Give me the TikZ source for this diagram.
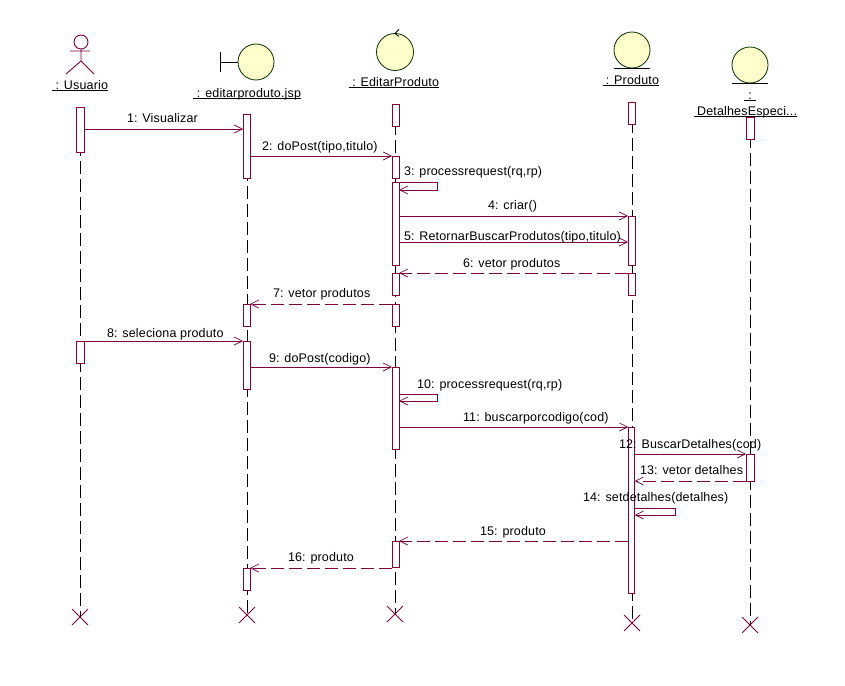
\documentclass[tikz,border=0pt]{standalone}
\usepackage{fontspec}
\setmainfont[LetterSpace=1.3]{Liberation Sans}
\usetikzlibrary{arrows.meta,calc}
\definecolor{rose}{HTML}{800040}
\definecolor{pale}{HTML}{FFFFCC}
\tikzset{
  x=1pt,y=-1pt,
  every node/.style={font=\fontsize{12.5}{14}\selectfont,inner sep=0pt,outer sep=0pt,text=black},
  lifeline/.style={draw=black,line width=0.9pt,dash pattern=on 13pt off 5pt},
  actbox/.style={draw=rose,fill=white,line width=0.9pt,rectangle},
  msg/.style={draw=rose,line width=0.9pt,-{Straight Barb[length=8pt,width=8pt,line width=0.7pt]}},
  ret/.style={msg,dash pattern=on 13pt off 5pt},
  ball/.style={circle,draw=black!80!green,fill=pale,line width=0.8pt},
  mark line/.style={draw=black,line width=0.8pt},
  destroy/.style={draw=rose,line width=0.9pt},
  objlabel/.style={anchor=base east},
  msglabel/.style={anchor=base west},
}
\newcommand{\act}[5]{\node[actbox,minimum width=#3pt,minimum height={(#5-#4)*1pt}] (#1) at (#2,{(#4+#5)/2}) {};}
\newcommand{\xmark}[3]{\coordinate (#1) at (#2,#3); \draw[destroy] ($(#1)+(-8,-8)$) -- ($(#1)+(8,8)$) ($(#1)+(8,-8)$) -- ($(#1)+(-8,8)$);}
\begin{document}
\begin{tikzpicture}
\useasboundingbox (0,0) rectangle (845,685);
\fill[white] (0,0) rectangle (845,685);
% object heads
\node[circle,draw=rose,line width=0.9pt,minimum size=14pt] (uhead) at (81,42) {};
\coordinate (uhip) at (81,61);
\draw[draw=rose,line width=0.9pt] (uhead.south) -- (uhip) (70,51) -- (90,51) (66,74) -- (uhip) -- (94,74);
\node[objlabel] (ulab) at (108,89) {: Usuario};
\draw[mark line] (52,90.5) -- (108,90.5);
\node[ball,minimum size=36pt] (jball) at (256,62) {};
\coordinate (jbar) at (220,62);
\draw[mark line] (jball.west) -- (jbar) (220,52) -- (220,72);
\node[objlabel] (jlab) at (301,97) {: editarproduto.jsp};
\draw[mark line] (193,98.5) -- (301,98.5);
\node[ball,minimum size=37pt] (eball) at (395,52) {};
\draw[mark line] (eball.north) ++(4,-4) -- (eball.north) -- ++(4,3);
\node[objlabel] (elab) at (439,86) {: EditarProduto};
\draw[mark line] (349,87.5) -- (439,87.5);
\node[ball,minimum size=36pt] (pball) at (632,50) {};
\draw[mark line] (614,68) -- (650,68);
\node[objlabel] (plab) at (659,84) {: Produto};
\draw[mark line] (603,85.5) -- (659,85.5);
\node[ball,minimum size=36pt] (dball) at (750,65) {};
\draw[mark line] (732,83) -- (768,83);
\node[anchor=base] (dcolon) at (750,99) {:};
\draw[mark line] (744,100.5) -- (756,100.5);
\node[objlabel] (dlab) at (797,115) {DetalhesEspeci...};
\draw[mark line] (694,116.5) -- (797,116.5);
% lifelines
\xmark{ux}{80}{617}
\xmark{jx}{247}{615}
\xmark{ex}{395}{614}
\xmark{px}{632}{623}
\xmark{dx}{750}{625}
\coordinate (ut) at (80,107);
\coordinate (jt) at (247,114);
\coordinate (et) at (395,104);
\coordinate (pt) at (632,102);
\coordinate (dt) at (750,117);
\draw[lifeline] (ut) -- (ux);
\draw[lifeline] (jt) -- (jx);
\draw[lifeline] (et) -- (ex);
\draw[lifeline] (pt) -- (px);
\draw[lifeline] (dt) -- (dx);
% activations
\act{u1}{80}{8}{107}{152}
\act{u2}{80}{8}{341}{363}
\act{j1}{246.5}{7}{114}{178}
\act{j2}{246.5}{7}{304}{326}
\act{j3}{246.5}{7}{341}{389}
\act{j4}{246.5}{7}{568}{590}
\act{e1}{395.5}{7}{104}{126}
\act{e2}{395.5}{7}{156}{178}
\act{e3}{395.5}{7}{182}{265}
\act{e4}{395.5}{7}{273}{295}
\act{e5}{395.5}{7}{304}{326}
\act{e6}{395.5}{7}{367}{449}
\act{e7}{395.5}{7}{541}{567}
\act{p1}{631.5}{7}{102}{124}
\act{p2}{631.5}{7}{216}{265}
\act{p3}{631.5}{7}{273}{295}
\act{p4}{631.5}{6.5}{427}{593}
\act{d1}{750}{8}{117}{139}
\act{d2}{750}{8}{454}{481}
% messages
\draw[msg] (u1.east |- 0,129) -- (j1.west |- 0,129);
\draw[msg] (j1.east |- 0,156) -- (e2.west |- 0,156);
\draw[msg] (e3.east |- 0,182) -- (437,182) -- (437,190) -- (e3.east |- 0,190);
\draw[msg] (e3.east |- 0,216) -- (p2.west |- 0,216);
\draw[msg] (e3.east |- 0,242) -- (p2.west |- 0,242);
\draw[ret] (p3.west |- 0,273) -- (e4.east |- 0,273);
\draw[ret] (e5.west |- 0,304) -- (j2.east |- 0,304);
\draw[msg] (u2.east |- 0,341) -- (j3.west |- 0,341);
\draw[msg] (j3.east |- 0,367) -- (e6.west |- 0,367);
\draw[msg] (e6.east |- 0,394) -- (437,394) -- (437,401) -- (e6.east |- 0,401);
\draw[msg] (e6.east |- 0,427) -- (p4.west |- 0,427);
\draw[msg] (p4.east |- 0,454) -- (d2.west |- 0,454);
\draw[ret] (d2.west |- 0,481) -- (p4.east |- 0,481);
\draw[msg] (p4.east |- 0,508) -- (675,508) -- (675,515) -- (p4.east |- 0,515);
\draw[ret] (p4.west |- 0,541) -- (e7.east |- 0,541);
\draw[ret] (e7.west |- 0,568) -- (j4.east |- 0,568);
% labels
\node[msglabel] (m1) at (127,122) {1: Visualizar};
\node[msglabel] (m2) at (262,150) {2: doPost(tipo,titulo)};
\node[msglabel] (m3) at (404,175) {3: processrequest(rq,rp)};
\node[msglabel] (m4) at (488,209) {4: criar()};
\node[msglabel] (m5) at (404,240) {5: RetornarBuscarProdutos(tipo,titulo)};
\node[msglabel] (m6) at (463,267) {6: vetor produtos};
\node[msglabel] (m7) at (273,297) {7: vetor produtos};
\node[msglabel] (m8) at (107,337) {8: seleciona produto};
\node[msglabel] (m9) at (269,362) {9: doPost(codigo)};
\node[msglabel] (m10) at (417,388) {10: processrequest(rq,rp)};
\node[msglabel] (m11) at (463,421) {11: buscarporcodigo(cod)};
\node[msglabel] (m12) at (619,448) {12: BuscarDetalhes(cod)};
\node[msglabel] (m13) at (640,474) {13: vetor detalhes};
\node[msglabel] (m14) at (583,501) {14: setdetalhes(detalhes)};
\node[msglabel] (m15) at (480,535) {15: produto};
\node[msglabel] (m16) at (288,561) {16: produto};
\end{tikzpicture}
\end{document}
